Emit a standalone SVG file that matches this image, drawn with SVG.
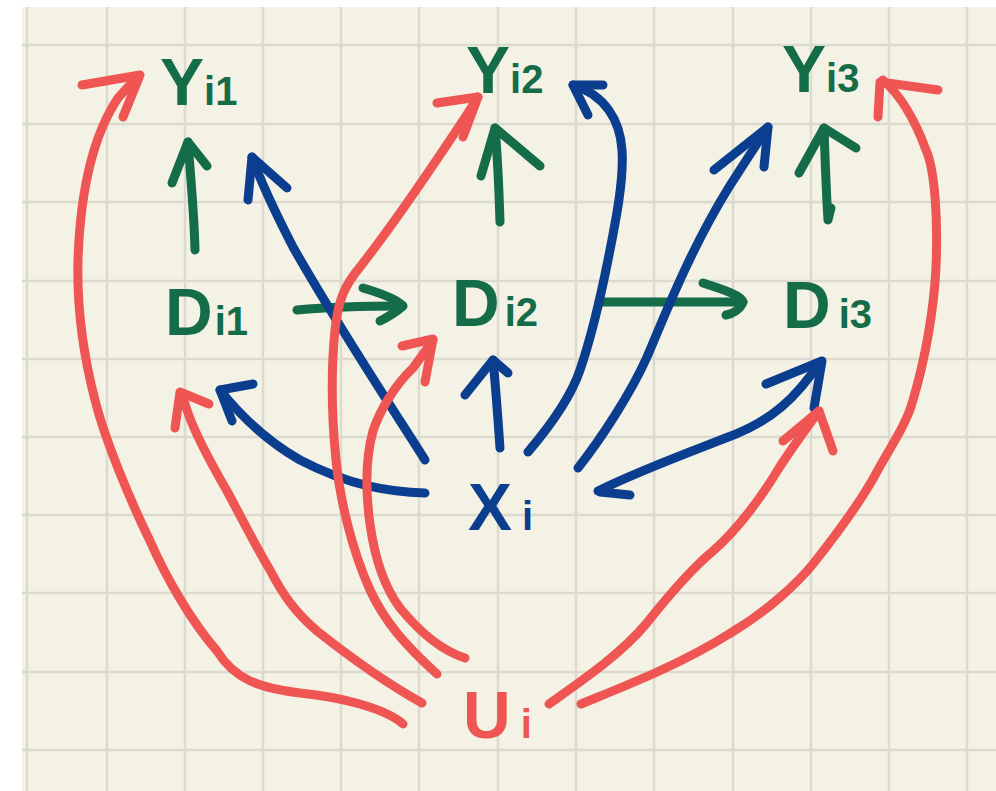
<svg xmlns="http://www.w3.org/2000/svg" width="996" height="791" viewBox="0 0 996 791">
  <style>
    .grid line { stroke: #dcdacf; stroke-width: 2.5; }
    .ink { fill: none; stroke-width: 9; stroke-linecap: round; stroke-linejoin: round; }
    .green { stroke: #146c48; }
    .blue { stroke: #0c3e90; }
    .red { stroke: #ef5552; }
    .lbl { font-family: "Liberation Sans", "DejaVu Sans", sans-serif; font-weight: bold; font-size: 66px; }
    .sub { font-size: 40px; }
    .tg { fill: #146c48; }
    .tb { fill: #0c3e90; }
    .tr { fill: #ef5552; }
  </style>

  <!-- sheet and squared paper -->
  <rect x="0" y="0" width="996" height="791" fill="#ffffff"/>
  <rect x="22" y="7" width="974" height="784" fill="#f3f2e5"/>
  <g class="grid">
    <line x1="27" y1="7" x2="27" y2="791"/>
    <line x1="107" y1="7" x2="107" y2="791"/>
    <line x1="185" y1="7" x2="185" y2="791"/>
    <line x1="263" y1="7" x2="263" y2="791"/>
    <line x1="341" y1="7" x2="341" y2="791"/>
    <line x1="419" y1="7" x2="419" y2="791"/>
    <line x1="498" y1="7" x2="498" y2="791"/>
    <line x1="576" y1="7" x2="576" y2="791"/>
    <line x1="654" y1="7" x2="654" y2="791"/>
    <line x1="733" y1="7" x2="733" y2="791"/>
    <line x1="811" y1="7" x2="811" y2="791"/>
    <line x1="889" y1="7" x2="889" y2="791"/>
    <line x1="967" y1="7" x2="967" y2="791"/>
    <line x1="22" y1="45" x2="996" y2="45"/>
    <line x1="22" y1="124" x2="996" y2="124"/>
    <line x1="22" y1="202" x2="996" y2="202"/>
    <line x1="22" y1="281" x2="996" y2="281"/>
    <line x1="22" y1="359" x2="996" y2="359"/>
    <line x1="22" y1="437" x2="996" y2="437"/>
    <line x1="22" y1="515" x2="996" y2="515"/>
    <line x1="22" y1="593" x2="996" y2="593"/>
    <line x1="22" y1="672" x2="996" y2="672"/>
    <line x1="22" y1="750" x2="996" y2="750"/>
  </g>

  <!-- connectors -->
  <g id="connectors">
    <!-- treatment to outcome -->
    <g id="d1-y1" class="ink green">
      <path d="M195,250 C194,210 190,170 188,142"/>
      <path d="M172,183 L188,142 L207,166"/>
    </g>
    <g id="d2-y2" class="ink green">
      <path d="M500,222 C499,190 497,150 495,128"/>
      <path d="M481,176 L495,128 L540,166"/>
    </g>
    <g id="d3-y3" class="ink green">
      <path d="M831,208 L828,220 C826,190 825,155 824,128"/>
      <path d="M799,173 L824,128 L856,148"/>
    </g>
    <!-- treatment to next treatment -->
    <g id="d1-d2" class="ink green">
      <path d="M297,310 C330,307 370,306 402,306"/>
      <path d="M363,288 C380,293 398,300 403,306 C396,312 388,317 380,321"/>
    </g>
    <g id="d2-d3" class="ink green">
      <path d="M599,302 L743,302"/>
      <path d="M703,283 C725,290 742,296 743,302 C740,310 732,314 726,315"/>
    </g>

    <!-- covariates -->
    <g id="x-y1" class="ink blue">
      <path d="M425,460 C400,420 340,330 293,247 C275,212 262,185 252,157"/>
      <path d="M248,200 L252,157 L287,188"/>
    </g>
    <g id="x-d2" class="ink blue">
      <path d="M500,448 C498,420 496,390 493,360"/>
      <path d="M465,395 L493,360 L508,373"/>
    </g>
    <g id="x-y2" class="ink blue">
      <path d="M528,452 C545,432 570,400 580,370 C592,335 600,300 608,260 C616,220 624,180 622,150 C620,120 605,95 573,85"/>
      <path d="M603,85 L573,85 L588,115"/>
    </g>
    <g id="x-y3" class="ink blue">
      <path d="M578,468 C600,440 630,395 647,357 C665,315 690,250 729,187 C745,162 758,142 768,127"/>
      <path d="M714,170 L768,127 L764,167"/>
    </g>
    <g id="x-d1" class="ink blue">
      <path d="M425,493 C390,492 350,486 300,460 C265,440 240,415 220,390"/>
      <path d="M232,421 L220,390 L253,384"/>
    </g>
    <g id="x-d3" class="ink blue">
      <path d="M600,492 L630,495 M598,491 C640,470 690,452 736,434 C770,420 795,400 820,362"/>
      <path d="M766,384 L822,361 L814,408"/>
    </g>

    <!-- unobserved confounder -->
    <g id="u-y1" class="ink red">
      <path d="M403,724 C385,708 340,697 300,693 C260,688 235,680 217,651 C190,620 165,575 150,541 C130,500 105,440 95,400 C82,350 77,300 78,260 C80,200 90,140 118,98 L138,76"/>
      <path d="M82,85 L140,75 L123,117"/>
    </g>
    <g id="u-d1" class="ink red">
      <path d="M422,703 C395,688 360,665 317,631 C295,612 283,595 270,570 C255,545 240,515 227,491 C212,465 195,435 187,410 L182,395"/>
      <path d="M175,428 L180,392 L209,404"/>
    </g>
    <g id="u-y2" class="ink red">
      <path d="M437,674 C405,645 385,622 370,590 C352,550 340,500 336,460 C332,420 331,370 335,330 C338,300 345,285 360,267 C385,235 420,185 450,140 C460,125 470,110 478,97"/>
      <path d="M437,103 L478,97 L463,137"/>
    </g>
    <g id="u-d2" class="ink red">
      <path d="M465,658 C440,650 418,630 400,608 C385,588 375,560 370,524 C366,495 365,460 373,431 C380,410 395,385 413,368 C420,358 428,348 433,340"/>
      <path d="M402,346 L433,339 L425,382"/>
    </g>
    <g id="u-d3" class="ink red">
      <path d="M549,704 C580,682 620,655 646,624 C665,600 690,570 713,551 C735,532 760,500 779,468 C792,448 805,430 819,411"/>
      <path d="M783,441 L819,411 L833,451"/>
    </g>
    <g id="u-y3" class="ink red">
      <path d="M581,704 C620,688 680,665 729,634 C770,610 800,580 813,564 C840,530 865,495 879,468 C895,440 908,420 913,400 C925,360 934,310 936,267 C938,220 935,170 926,150 C915,120 900,95 883,80"/>
      <path d="M938,90 L880,82 L878,117"/>
    </g>
  </g>

  <!-- nodes -->
  <g id="node-y1"><text class="lbl tg" x="160" y="105">Y<tspan class="sub">i1</tspan></text></g>
  <g id="node-y2"><text class="lbl tg" x="466" y="93">Y<tspan class="sub">i2</tspan></text></g>
  <g id="node-y3"><text class="lbl tg" x="782" y="92">Y<tspan class="sub">i3</tspan></text></g>
  <g id="node-d1"><text class="lbl tg" x="165" y="335">D<tspan class="sub" dx="2">i1</tspan></text></g>
  <g id="node-d2"><text class="lbl tg" x="452" y="326">D<tspan class="sub" dx="5">i2</tspan></text></g>
  <g id="node-d3"><text class="lbl tg" x="783" y="328">D<tspan class="sub" dx="8">i3</tspan></text></g>
  <g id="node-x"><text class="lbl tb" x="468" y="530">X<tspan class="sub" dx="10">i</tspan></text></g>
  <g id="node-u"><text class="lbl tr" x="463" y="738">U<tspan class="sub" dx="10">i</tspan></text></g>
</svg>
